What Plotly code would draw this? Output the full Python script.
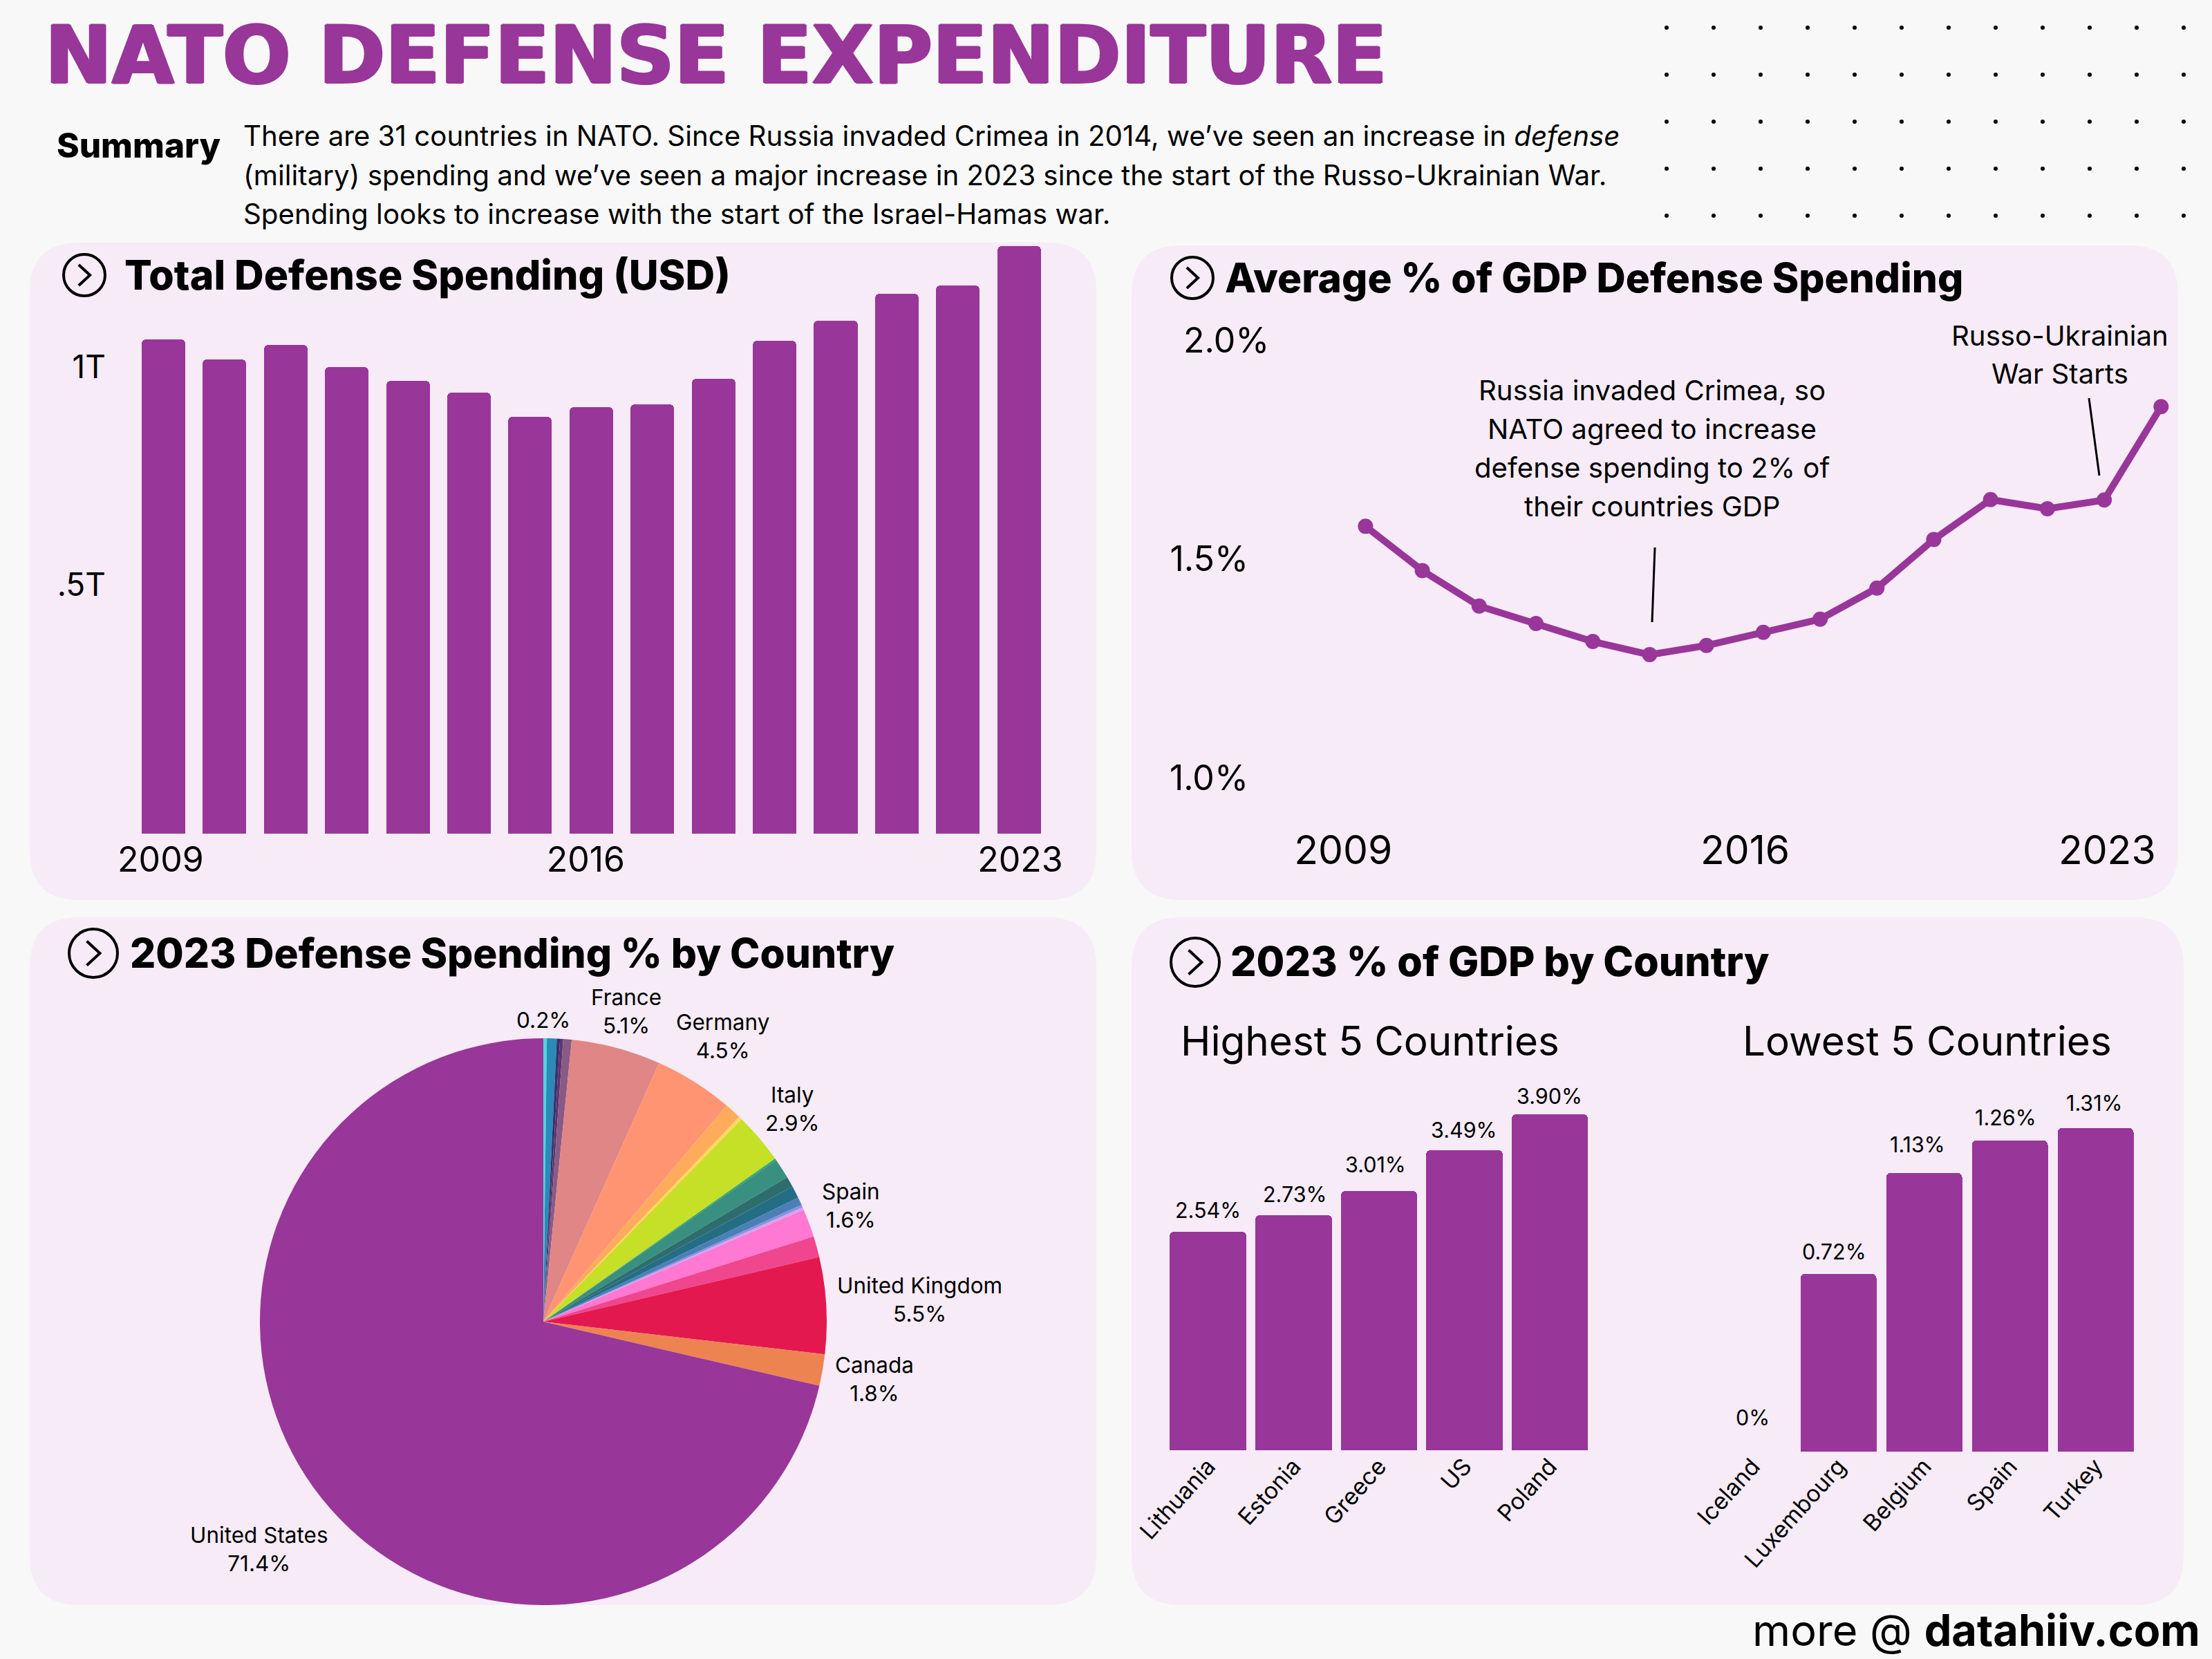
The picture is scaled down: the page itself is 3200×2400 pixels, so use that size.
import plotly.graph_objects as go

# ---------- data ----------
years = list(range(2009, 2024))
total_spending_t = [1.06, 1.016, 1.047, 1.0, 0.97, 0.945, 0.893, 0.914, 0.92, 0.975, 1.056, 1.10, 1.157, 1.175, 1.26]
avg_gdp_pct = [1.575, 1.474, 1.393, 1.353, 1.312, 1.282, 1.303, 1.333, 1.363, 1.434, 1.545, 1.636, 1.615, 1.635, 1.848]

pie_names = ["Albania", "Belgium", "Bulgaria", "Croatia", "Czechia", "France", "Germany", "Greece", "Hungary",
             "Italy", "Latvia", "Netherlands", "Norway", "Poland", "Romania", "Slovakia", "Slovenia",
             "Spain", "Turkey", "United Kingdom", "Canada", "United States"]
pie_values = [0.2, 0.56, 0.18, 0.18, 0.48, 5.1, 4.5, 0.95, 0.2, 2.9, 0.1, 1.15, 0.6, 0.7, 0.45, 0.15, 0.15, 1.6, 1.2, 5.5, 1.8, 71.4]
pie_colors = ["#4fd3e0", "#2a8ab8", "#3a2f6e", "#5a3570", "#8a5a86", "#e08686", "#ff9472", "#ffab5c", "#ffd75a",
              "#c6e027", "#2fa87c", "#3a9080", "#2e6d6d", "#236d85", "#4a80b5", "#8a8fe0", "#d8a0f0",
              "#ff78d2", "#ef468e", "#e3184f", "#ee8352", "#993699"]

high_names = ["Lithuania", "Estonia", "Greece", "US", "Poland"]
high_values = [2.54, 2.73, 3.01, 3.49, 3.90]
low_names = ["Iceland", "Luxembourg", "Belgium", "Spain", "Turkey"]
low_values = [0, 0.72, 1.13, 1.26, 1.31]

# ---------- style ----------
W, H = 3200, 2400
PURPLE = "#993699"
PANEL = "#f6ebf7"
BG = "#f8f8f8"
BODY = "Inter"
HEAD = "Inter"
HIGH_LABEL_SHIFT = [(0, 31), (2, 31), (-5, 39), (0, 29), (0, 27)]
LOW_LABEL_SHIFT = [(0, 50), (-6, 32), (-10, 41), (-6, 34), (-2, 37)]


def px(x):
    return x / W


def py(y):
    return 1 - y / H


shapes = []
annotations = []


def text(s, x, y, size, anchor="left", weight=400, color="black", family=BODY, shadow=None):
    font = dict(family=family, size=size, color=color, weight=weight)
    if shadow:
        font["shadow"] = shadow
    annotations.append(dict(text=s, x=px(x), y=py(y), xref="paper", yref="paper", showarrow=False,
                            xanchor=anchor, yanchor="middle", borderpad=0, font=font))


def panel(x0, y0, x1, y1, r=72):
    X0, X1, Y0, Y1 = px(x0), px(x1), py(y0), py(y1)
    rx, ry = r / W, r / H
    path = (f"M {X0+rx} {Y0} L {X1-rx} {Y0} Q {X1} {Y0} {X1} {Y0-ry} L {X1} {Y1+ry} Q {X1} {Y1} {X1-rx} {Y1} "
            f"L {X0+rx} {Y1} Q {X0} {Y1} {X0} {Y1+ry} L {X0} {Y0-ry} Q {X0} {Y0} {X0+rx} {Y0} Z")
    shapes.append(dict(type="path", path=path, xref="paper", yref="paper", fillcolor=PANEL,
                       line=dict(width=0), layer="below"))


def icon(cx, cy, r):
    shapes.append(dict(type="circle", xref="paper", yref="paper", x0=px(cx - r), x1=px(cx + r),
                       y0=py(cy + r), y1=py(cy - r), line=dict(color="black", width=4)))
    a = r * 0.27
    b = r * 0.5
    path = f"M {px(cx-a)} {py(cy-b)} L {px(cx+a)} {py(cy)} L {px(cx-a)} {py(cy+b)}"
    shapes.append(dict(type="path", path=path, xref="paper", yref="paper", line=dict(color="black", width=4)))


def seg(x0, y0, x1, y1):
    shapes.append(dict(type="line", xref="paper", yref="paper", x0=px(x0), y0=py(y0), x1=px(x1), y1=py(y1),
                       line=dict(color="black", width=3)))


panel(43, 351, 1586, 1302)
panel(1637, 355, 3151, 1302)
panel(43, 1327, 1586, 2322)
panel(1637, 1327, 3159, 2322)

# dot grid
for r in range(5):
    for c in range(12):
        cx, cy = 2411 + c * 68, 40 + r * 68
        shapes.append(dict(type="circle", xref="paper", yref="paper", x0=px(cx - 3), x1=px(cx + 3),
                           y0=py(cy + 3), y1=py(cy - 3), fillcolor="#000000", line=dict(width=0)))

# header
text("NATO DEFENSE EXPENDITURE", 64, 79, 116, weight=700, color=PURPLE, family="DejaVu Sans",
     shadow=f"2px 0 0 {PURPLE}, -2px 0 0 {PURPLE}, 0 1px 0 {PURPLE}, 0 -1px 0 {PURPLE}")
text("Summary", 81, 210, 49.5, weight=800, family=HEAD)
text("There are 31 countries in NATO. Since Russia invaded Crimea in 2014, we’ve seen an increase in <i>defense</i>", 351, 196, 40.3)
text("(military) spending and we’ve seen a major increase in 2023 since the start of the Russo-Ukrainian War.", 351, 253, 40.3)
text("Spending looks to increase with the start of the Israel-Hamas war.", 351, 310, 40.3)

# panel headings
icon(122, 398, 30)
text("Total Defense Spending (USD)", 179, 398, 59, weight=800, family=HEAD)
icon(1725, 402, 30)
text("Average % of GDP Defense Spending", 1771, 402, 58.5, weight=800, family=HEAD)
icon(135, 1379, 35)
text("2023 Defense Spending % by Country", 187, 1378, 58.5, weight=800, family=HEAD)
icon(1729, 1392, 35)
text("2023 % of GDP by Country", 1779, 1390, 59, weight=800, family=HEAD)
text("Highest 5 Countries", 1982, 1505, 58.4, anchor="center")
text("Lowest 5 Countries", 2788, 1505, 58.4, anchor="center")

# line chart notes
for i, s in enumerate(["Russia invaded Crimea, so", "NATO agreed to increase", "defense spending to 2% of", "their countries GDP"]):
    text(s, 2390, 564 + i * 56.3, 40.2, anchor="center")
for i, s in enumerate(["Russo-Ukrainian", "War Starts"]):
    text(s, 2980, 485 + i * 56, 40.2, anchor="center")
seg(2394, 792, 2390, 900)
seg(3022, 576, 3037, 688)

# footer
text("more @ <b>datahiiv.com</b>", 3184, 2358, 63, anchor="right")

# pie labels
pie_labels = {0: (786, 1475), 5: (906, 1463), 6: (1045, 1499), 9: (1146, 1604), 17: (1231, 1744),
              19: (1330, 1880), 20: (1265, 1995), 21: (375, 2241)}
for idx, (x, y) in pie_labels.items():
    if idx != 0:
        text(f"{pie_names[idx]}<br>{pie_values[idx]}%", x, y, 31.5, anchor="center")
    else:
        text(f"{pie_values[idx]}%", x, y, 31.5, anchor="center")

fig = go.Figure()

# total spending bars
fig.add_trace(go.Bar(x=years, y=total_spending_t, marker=dict(color=PURPLE, line=dict(width=0), cornerradius=6),
                     width=0.713, xaxis="x", yaxis="y", showlegend=False))
# average line
fig.add_trace(go.Scatter(x=years, y=avg_gdp_pct, mode="lines+markers", line=dict(color=PURPLE, width=10),
                         marker=dict(color=PURPLE, size=22), xaxis="x2", yaxis="y2", showlegend=False, cliponaxis=False))
# pie
fig.add_trace(go.Pie(labels=pie_names, values=pie_values, sort=False, direction="clockwise", rotation=0,
                     marker=dict(colors=pie_colors, line=dict(width=0)), textinfo="none", showlegend=False,
                     domain=dict(x=[px(786 - 410), px(786 + 410)], y=[py(1912 + 410), py(1912 - 410)])))
# highest / lowest bars
fig.add_trace(go.Bar(x=high_names, y=high_values, marker=dict(color=PURPLE, line=dict(width=0), cornerradius=6),
                     width=0.895, xaxis="x3", yaxis="y3", showlegend=False))
fig.add_trace(go.Bar(x=low_names, y=low_values, marker=dict(color=PURPLE, line=dict(width=0), cornerradius=6),
                     width=0.895, xaxis="x4", yaxis="y4", showlegend=False))

for name, v, (dx, dy) in zip(high_names, high_values, HIGH_LABEL_SHIFT):
    annotations.append(dict(text=f"{v:.2f}%", x=name, y=v, xref="x3", yref="y3", showarrow=False, xshift=dx, yshift=dy,
                            yanchor="middle", font=dict(family=BODY, size=30.5, color="black")))
for name, v, (dx, dy) in zip(low_names, low_values, LOW_LABEL_SHIFT):
    annotations.append(dict(text=f"{v:.2f}%" if v else "0%", x=name, y=v, xref="x4", yref="y4", showarrow=False, xshift=dx, yshift=dy,
                            yanchor="middle", font=dict(family=BODY, size=30.5, color="black")))
annotations.append(dict(text="2.0%", x=px(1710), y=2.0, xref="paper", yref="y2", showarrow=False, xanchor="left",
                        font=dict(family=BODY, size=50, color="black")))


def dom_x(a, b):
    return [a / W, b / W]


def dom_y(top, bottom):
    return [1 - bottom / H, 1 - top / H]


fig.update_layout(
    template="none",
    width=W, height=H, margin=dict(l=0, r=0, t=0, b=0, pad=0), paper_bgcolor=BG, plot_bgcolor="rgba(0,0,0,0)",
    shapes=shapes, annotations=annotations, bargap=0,
    xaxis=dict(domain=dom_x(160, 1560), range=[2008.135, 2023.97], tickvals=[2008.954, 2015.91, 2023.02], ticktext=["2009", "2016", "2023"],
               tickfont=dict(family=BODY, size=50, color="black"), showgrid=False, zeroline=False, showline=False, ticks="", anchor="y", ticklabelstandoff=4),
    yaxis=dict(domain=dom_y(351, 1206), range=[0, 855 / 675], tickvals=[0.534, 1.0], ticktext=[".5T", "1T"],
               tickfont=dict(family=BODY, size=46, color="black"), showgrid=False, zeroline=False, showline=False, ticks="", anchor="x", ticklabelstandoff=6),
    xaxis2=dict(domain=dom_x(1820, 3151), range=[2007.11, 2023.30], tickvals=[2008.61, 2015.68, 2022.05],
                ticktext=["2009", "2016", "2023"], tickfont=dict(family=BODY, size=57, color="black"), showgrid=False, zeroline=False, showline=False, ticks="", anchor="y2", ticklabelstandoff=-8),
    yaxis2=dict(domain=dom_y(440, 1200), range=[0.883, 2.082], tickvals=[1.0, 1.5], ticktext=["1.0%", "1.5%"],
                tickfont=dict(family=BODY, size=50, color="black"), showgrid=False, zeroline=False, showline=False, ticks="", anchor="x2", ticklabelstandoff=13),
    xaxis3=dict(domain=dom_x(1686, 2303.6), tickangle=-48, tickfont=dict(family=BODY, size=33.5, color="black"), showgrid=False, zeroline=False, showline=False, ticks="", anchor="y3", ticklabelstandoff=-4),
    yaxis3=dict(domain=dom_y(1560, 2098), range=[0, 538 / 124.5], visible=False, anchor="x3"),
    xaxis4=dict(domain=dom_x(2473.5, 3093.5), tickangle=-48, tickfont=dict(family=BODY, size=33.5, color="black"), showgrid=False, zeroline=False, showline=False, ticks="", anchor="y4", ticklabelstandoff=-6),
    yaxis4=dict(domain=dom_y(1560, 2100), range=[0, 540 / 357], visible=False, anchor="x4"),
)

fig.write_html("out.html", config={"displayModeBar": False},
               post_script="document.body.style.margin='0';document.body.style.background='#f8f8f8';")
